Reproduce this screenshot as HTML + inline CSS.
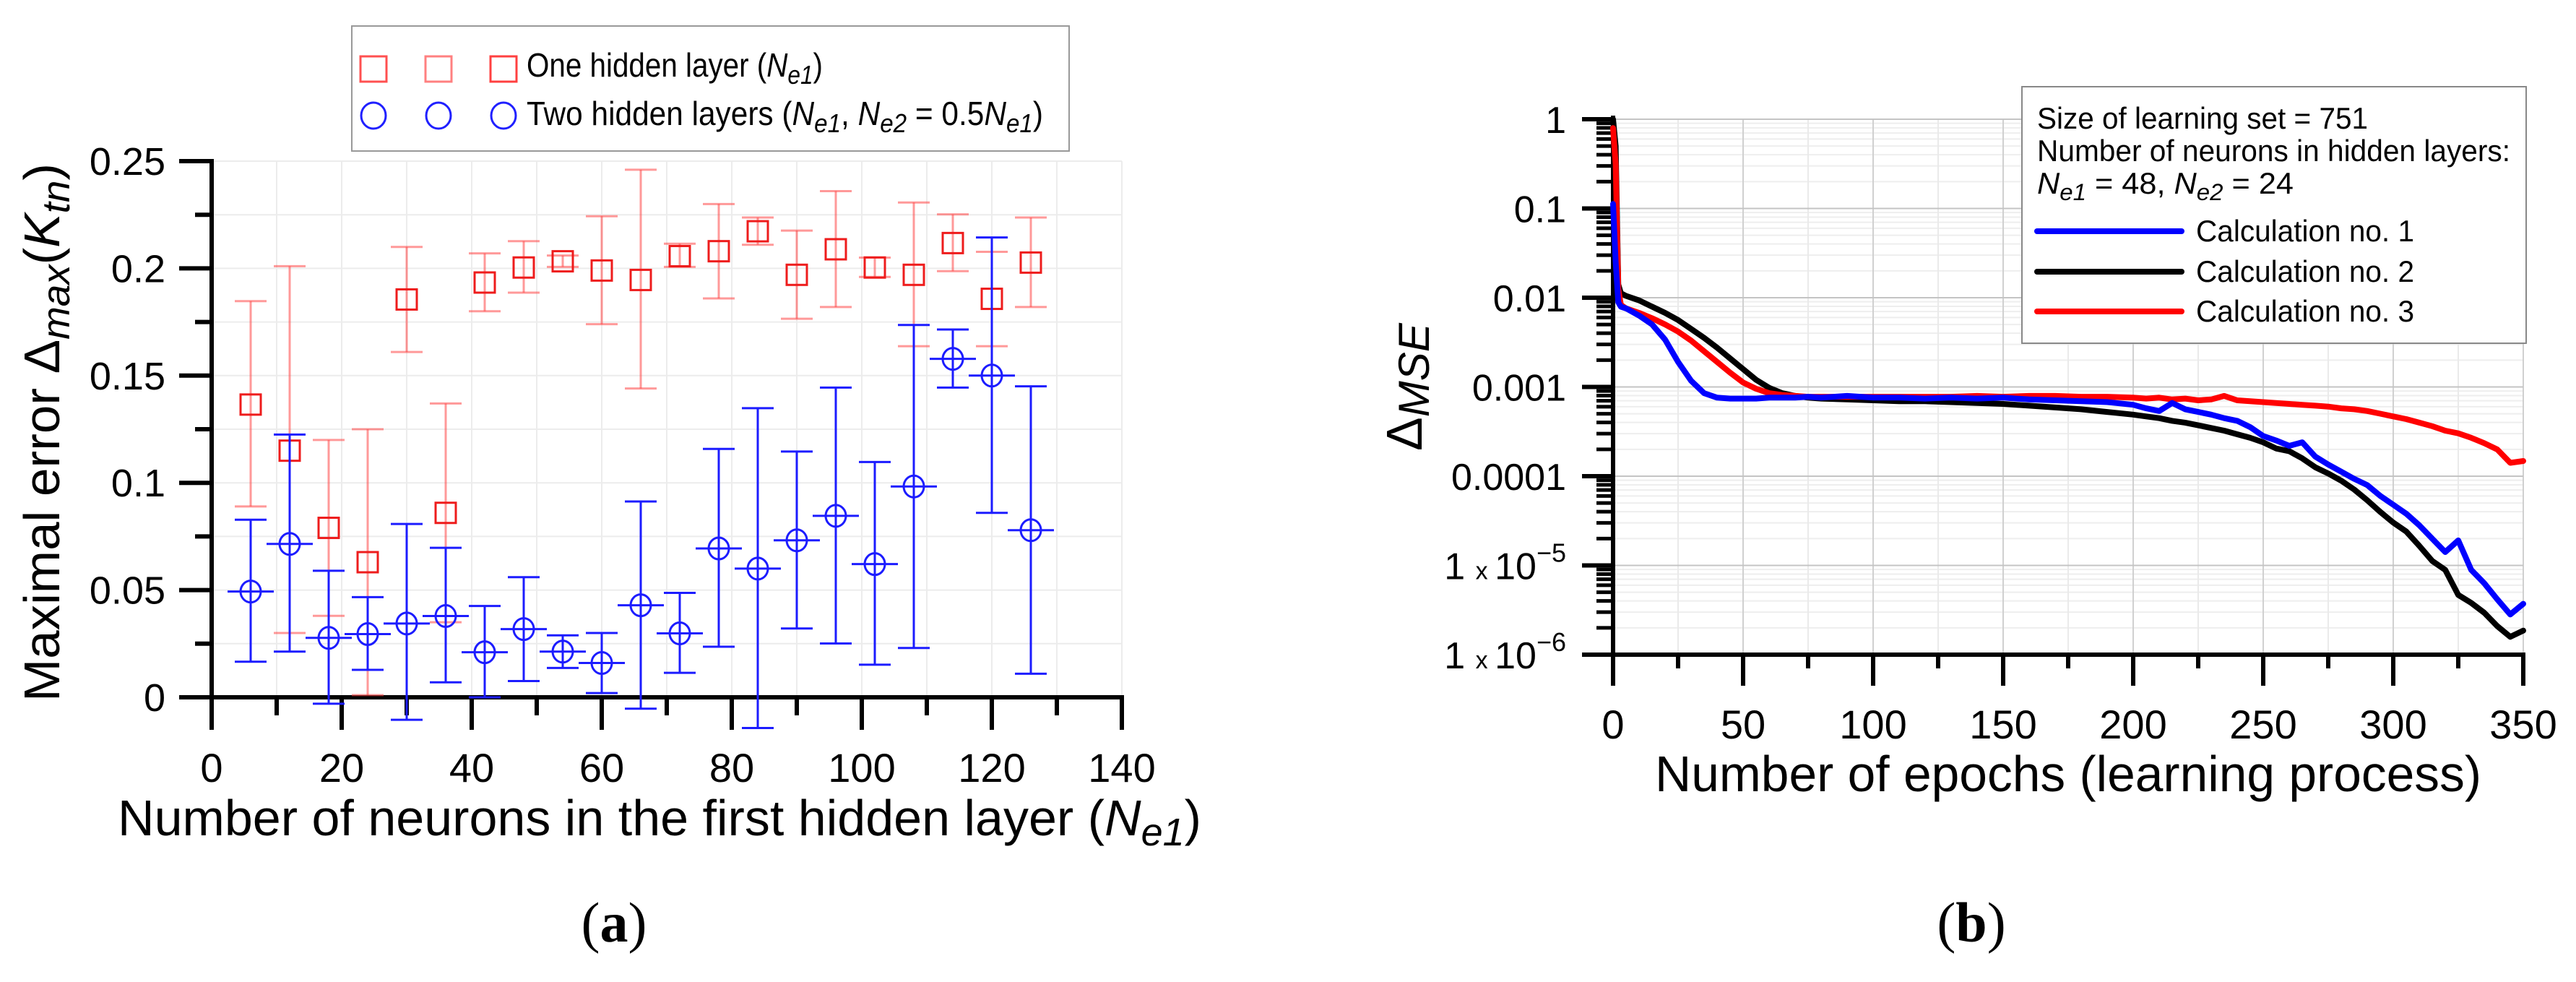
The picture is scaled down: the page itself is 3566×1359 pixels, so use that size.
<!DOCTYPE html>
<html><head><meta charset="utf-8"><style>
html,body{margin:0;padding:0;background:#fff;}
svg{display:block;font-family:"Liberation Sans",Arial,sans-serif;}
</style></head><body>
<svg id="fig" width="3566" height="1359" viewBox="0 0 3566 1359" xmlns="http://www.w3.org/2000/svg">
<rect width="3566" height="1359" fill="#fff"/>
<g id="chartA"></g>
<g id="chartB"></g>

<!-- Left legend -->
<g>
<rect x="487" y="36" width="993" height="173" fill="#fff" stroke="#999" stroke-width="2"/>
<g>
<rect x="499" y="78" width="36" height="35" fill="none" stroke="#ff5050" stroke-width="3"/>
<rect x="589" y="78" width="36" height="35" fill="none" stroke="#ff8080" stroke-width="3"/>
<rect x="679" y="78" width="36" height="35" fill="none" stroke="#ff4040" stroke-width="3"/>
<text x="729" y="106" font-size="46" textLength="410" lengthAdjust="spacingAndGlyphs">One hidden layer (<tspan font-style="italic">N</tspan><tspan font-style="italic" font-size="36" dy="10">e1</tspan><tspan dy="-10">)</tspan></text>
</g>
<g>
<ellipse cx="517" cy="160" rx="17" ry="18" fill="none" stroke="#2020ff" stroke-width="3"/>
<ellipse cx="607" cy="160" rx="17" ry="18" fill="none" stroke="#2020ff" stroke-width="3"/>
<ellipse cx="697" cy="160" rx="17" ry="18" fill="none" stroke="#2020ff" stroke-width="3"/>
<text x="729" y="173" font-size="46" textLength="715" lengthAdjust="spacingAndGlyphs">Two hidden layers (<tspan font-style="italic">N</tspan><tspan font-style="italic" font-size="36" dy="10">e1</tspan><tspan dy="-10">, </tspan><tspan font-style="italic">N</tspan><tspan font-style="italic" font-size="36" dy="10">e2</tspan><tspan dy="-10"> = 0.5</tspan><tspan font-style="italic">N</tspan><tspan font-style="italic" font-size="36" dy="10">e1</tspan><tspan dy="-10">)</tspan></text>
</g>
</g>

<!-- Left titles -->
<text x="163" y="1156" font-size="70" textLength="1500" lengthAdjust="spacingAndGlyphs">Number of neurons in the first hidden layer (<tspan font-style="italic">N</tspan><tspan font-style="italic" font-size="54" dy="14">e1</tspan><tspan dy="-14">)</tspan></text>
<text transform="translate(82,971) rotate(-90)" font-size="70" textLength="745" lengthAdjust="spacingAndGlyphs">Maximal error Δ<tspan font-style="italic" font-size="54" dy="14">max</tspan><tspan dy="-14">(</tspan><tspan font-style="italic">K</tspan><tspan font-style="italic" font-size="54" dy="14">tn</tspan><tspan dy="-14">)</tspan></text>
<text x="850" y="1303" font-size="78" text-anchor="middle" font-family="Liberation Serif, serif">(<tspan font-weight="bold">a</tspan>)</text>

<!-- Right legend -->
<g>
<rect x="2799" y="120" width="698" height="355" fill="#fff" stroke="#888" stroke-width="2"/>
<text x="2820" y="178" font-size="42" textLength="458" lengthAdjust="spacingAndGlyphs">Size of learning set = 751</text>
<text x="2820" y="223" font-size="42" textLength="655" lengthAdjust="spacingAndGlyphs">Number of neurons in hidden layers:</text>
<text x="2820" y="268" font-size="42" textLength="355" lengthAdjust="spacingAndGlyphs"><tspan font-style="italic">N</tspan><tspan font-style="italic" font-size="32" dy="9">e1</tspan><tspan dy="-9"> = 48, </tspan><tspan font-style="italic">N</tspan><tspan font-style="italic" font-size="32" dy="9">e2</tspan><tspan dy="-9"> = 24</tspan></text>
<g><line x1="2820" y1="320" x2="3020" y2="320" stroke="#0000ff" stroke-width="8" stroke-linecap="round"/><text x="3040" y="334" font-size="42" textLength="302" lengthAdjust="spacingAndGlyphs">Calculation no. 1</text></g>
<g><line x1="2820" y1="376" x2="3020" y2="376" stroke="#000" stroke-width="8" stroke-linecap="round"/><text x="3040" y="390" font-size="42" textLength="302" lengthAdjust="spacingAndGlyphs">Calculation no. 2</text></g>
<g><line x1="2820" y1="431" x2="3020" y2="431" stroke="#ff0000" stroke-width="8" stroke-linecap="round"/><text x="3040" y="445" font-size="42" textLength="302" lengthAdjust="spacingAndGlyphs">Calculation no. 3</text></g>
</g>

<text x="2291" y="1095" font-size="70" textLength="1144" lengthAdjust="spacingAndGlyphs">Number of epochs (learning process)</text>
<text transform="translate(1968,624) rotate(-90)" font-size="70">Δ<tspan font-style="italic" font-size="60" dy="10">MSE</tspan></text>
<text x="2729" y="1303" font-size="78" text-anchor="middle" font-family="Liberation Serif, serif">(<tspan font-weight="bold">b</tspan>)</text>
</svg>
<script>
// ---------- Chart A data ----------
const neurons = [6,12,18,24,30,36,42,48,54,60,66,72,78,84,90,96,102,108,114,120,126];
const oneLayerVal = [.1365,.115,.079,.063,.1855,.086,.1934,.2004,.2033,.199,.1946,.2057,.208,.2173,.197,.2089,.2004,.197,.2118,.1858,.2027];
const oneLayerHi = [.1847,.201,.120,.125,.210,.137,.207,.2127,.206,.2243,.246,.2115,.230,.2237,.2176,.236,.205,.2307,.2252,.2077,.2237];
const oneLayerLo = [.089,.030,.038,.001,.161,.035,.180,.1887,.2007,.174,.144,.2007,.186,.211,.1765,.182,.196,.1637,.1987,.1637,.182];
const twoLayerVal = [.0493,.0715,.0277,.0295,.0344,.0379,.021,.0318,.0213,.016,.0429,.0298,.0694,.060,.0732,.0846,.0621,.0983,.1578,.150,.0779];
const twoLayerHi = [.0828,.1225,.059,.0467,.0808,.0697,.0426,.056,.0289,.030,.0913,.0487,.1158,.1348,.1146,.1444,.1097,.1736,.1715,.2144,.145];
const twoLayerLo = [.0166,.0213,-.003,.0128,-.0105,.007,0,.0076,.0137,.002,-.0053,.0114,.0236,-.0143,.0321,.0251,.0152,.023,.1444,.086,.011];
const xTicksA = [0,20,40,60,80,100,120,140];
const yTicksA = [0,0.05,0.1,0.15,0.2,0.25];
const yTickLabelsA = ["0","0.05","0.1","0.15","0.2","0.25"];

// ---------- Chart B data (log10 of ΔMSE) ----------
const epochs = [0,1,2,3,5,10,15,20,25,30,35,40,45,50,55,60,65,70,75,80,90,100,110,120,130,140,150,160,170,180,190,200,205,210,215,220,225,230,235,240,245,250,255,260,265,270,275,280,285,290,295,300,305,310,315,320,325,330,335,340,345,350];
const calc1Log = [-0.95,-1.6,-2.05,-2.1,-2.12,-2.2,-2.3,-2.47,-2.72,-2.93,-3.07,-3.12,-3.13,-3.13,-3.13,-3.12,-3.12,-3.12,-3.11,-3.12,-3.1,-3.12,-3.12,-3.13,-3.12,-3.13,-3.12,-3.14,-3.15,-3.16,-3.17,-3.2,-3.24,-3.27,-3.18,-3.25,-3.28,-3.31,-3.35,-3.38,-3.45,-3.55,-3.6,-3.66,-3.62,-3.78,-3.87,-3.95,-4.03,-4.1,-4.22,-4.32,-4.42,-4.55,-4.7,-4.85,-4.72,-5.05,-5.2,-5.38,-5.55,-5.43];
const calc2Log = [0,-0.3,-1.85,-1.95,-1.98,-2.03,-2.1,-2.17,-2.25,-2.35,-2.45,-2.56,-2.68,-2.8,-2.92,-3.01,-3.07,-3.1,-3.12,-3.13,-3.14,-3.15,-3.16,-3.16,-3.17,-3.18,-3.19,-3.21,-3.23,-3.25,-3.28,-3.31,-3.33,-3.35,-3.38,-3.4,-3.43,-3.46,-3.49,-3.53,-3.57,-3.62,-3.69,-3.72,-3.8,-3.9,-3.97,-4.05,-4.15,-4.27,-4.4,-4.52,-4.62,-4.78,-4.95,-5.05,-5.33,-5.42,-5.53,-5.68,-5.8,-5.73];
const calc3Log = [-0.1,-0.5,-1.9,-2.08,-2.12,-2.17,-2.23,-2.3,-2.38,-2.48,-2.6,-2.72,-2.84,-2.95,-3.02,-3.07,-3.09,-3.1,-3.11,-3.11,-3.11,-3.11,-3.11,-3.11,-3.11,-3.1,-3.11,-3.1,-3.1,-3.11,-3.11,-3.12,-3.13,-3.12,-3.14,-3.13,-3.15,-3.14,-3.1,-3.15,-3.16,-3.17,-3.18,-3.19,-3.2,-3.21,-3.22,-3.24,-3.25,-3.27,-3.3,-3.33,-3.36,-3.4,-3.44,-3.49,-3.52,-3.57,-3.63,-3.7,-3.85,-3.83];
const xTicksB = [0,50,100,150,200,250,300,350];
const yDecadesB = [0,-1,-2,-3,-4,-5,-6];
const yTickLabelsB = ["1","0.1","0.01","0.001","0.0001","1 x 10^-5","1 x 10^-6"];

const NS = "http://www.w3.org/2000/svg";
function mk(parent, tag, attrs){ const e=document.createElementNS(NS,tag); for(const k in attrs) e.setAttribute(k,attrs[k]); parent.appendChild(e); return e; }

// ---------- Chart A ----------
(function(){
  const g = document.getElementById('chartA');
  const X = v => 293 + v*9;
  const Y = v => 965 - v*2968;
  // grid
  for(let v=0; v<=140; v+=10){ const l=mk(g,'line',{x1:X(v),y1:Y(0.25),x2:X(v),y2:Y(0),stroke:'#ececec','stroke-width':2});   }
  for(let i=0;i<=10;i++){ const v=i*0.025; const l=mk(g,'line',{x1:X(0),y1:Y(v),x2:X(140),y2:Y(v),stroke:'#ececec','stroke-width':2});   }
  // axes
  const ax=mk(g,'line',{x1:248,y1:Y(0),x2:X(140)+3,y2:Y(0),stroke:'#000','stroke-width':6});
   
  const ay=mk(g,'line',{x1:X(0),y1:Y(0.25)-3,x2:X(0),y2:1010,stroke:'#000','stroke-width':6});
   
  for(let i=0;i<=10;i++){ const v=i*0.025; const major=i%2===0;
    const t=mk(g,'line',{x1:major?248:270,y1:Y(v),x2:X(0),y2:Y(v),stroke:'#000','stroke-width':6});
      }
  for(let v=0; v<=140; v+=10){ const major=v%20===0;
    const t=mk(g,'line',{x1:X(v),y1:Y(0),x2:X(v),y2:major?1010:990,stroke:'#000','stroke-width':6});
      }
  xTicksA.forEach(v=>{ const t=mk(g,'text',{x:X(v),y:1082,'font-size':56,'text-anchor':'middle'}); t.textContent=String(v);
      });
  yTicksA.forEach((v,i)=>{ const t=mk(g,'text',{x:229,y:Y(v)+19,'font-size':54,'text-anchor':'end'}); t.textContent=yTickLabelsA[i];
      });
  // red series
  neurons.forEach((n,i)=>{
    const s=mk(g,'g',{});  
    const c='rgba(255,70,70,0.55)';
    mk(s,'line',{x1:X(n),y1:Y(oneLayerHi[i]),x2:X(n),y2:Y(oneLayerLo[i]),stroke:c,'stroke-width':3});
    mk(s,'line',{x1:X(n)-22,y1:Y(oneLayerHi[i]),x2:X(n)+22,y2:Y(oneLayerHi[i]),stroke:c,'stroke-width':3});
    mk(s,'line',{x1:X(n)-22,y1:Y(oneLayerLo[i]),x2:X(n)+22,y2:Y(oneLayerLo[i]),stroke:c,'stroke-width':3});
    mk(s,'rect',{x:X(n)-14,y:Y(oneLayerVal[i])-14,width:28,height:28,fill:'none',stroke:'#ee1c1c','stroke-width':3});
  });
  // blue series
  neurons.forEach((n,i)=>{
    const s=mk(g,'g',{});  
    const c='#1c1cff';
    mk(s,'line',{x1:X(n),y1:Y(twoLayerHi[i]),x2:X(n),y2:Y(twoLayerLo[i]),stroke:c,'stroke-width':3});
    mk(s,'line',{x1:X(n)-22,y1:Y(twoLayerHi[i]),x2:X(n)+22,y2:Y(twoLayerHi[i]),stroke:c,'stroke-width':3});
    mk(s,'line',{x1:X(n)-22,y1:Y(twoLayerLo[i]),x2:X(n)+22,y2:Y(twoLayerLo[i]),stroke:c,'stroke-width':3});
    mk(s,'line',{x1:X(n)-32,y1:Y(twoLayerVal[i]),x2:X(n)+32,y2:Y(twoLayerVal[i]),stroke:c,'stroke-width':3});
    mk(s,'ellipse',{cx:X(n),cy:Y(twoLayerVal[i]),rx:14,ry:15,fill:'none',stroke:c,'stroke-width':3});
  });
})();

// ---------- Chart B ----------
(function(){
  const g = document.getElementById('chartB');
  const X = v => 2233 + v*3.6;
  const Y = lg => 165 - lg*123.5;
  // minor grid
  for(let d=0; d>-6; d--){ for(let m=2;m<=9;m++){ const lg=d-1+Math.log10(m);
    const l=mk(g,'line',{x1:X(0),y1:Y(lg),x2:X(350),y2:Y(lg),stroke:'#eeeeee','stroke-width':2});
     
    const t=mk(g,'line',{x1:2210,y1:Y(lg),x2:X(0),y2:Y(lg),stroke:'#000','stroke-width':5});
      } }
  for(let v=25; v<=350; v+=25){ const major=v%50===0;
    const l=mk(g,'line',{x1:X(v),y1:Y(0),x2:X(v),y2:Y(-6),stroke:major?'#d0d0d0':'#eaeaea','stroke-width':2});
      }
  yDecadesB.forEach(lg=>{ const l=mk(g,'line',{x1:X(0),y1:Y(lg),x2:X(350),y2:Y(lg),stroke:'#c4c4c4','stroke-width':2});
     
    const t=mk(g,'line',{x1:2190,y1:Y(lg),x2:X(0),y2:Y(lg),stroke:'#000','stroke-width':6});
      });
  const ax=mk(g,'line',{x1:2190,y1:Y(-6),x2:X(350)+3,y2:Y(-6),stroke:'#000','stroke-width':6});
   
  const ay=mk(g,'line',{x1:X(0),y1:Y(0)-5,x2:X(0),y2:949,stroke:'#000','stroke-width':6});
   
  for(let v=0; v<=350; v+=25){ const major=v%50===0;
    const t=mk(g,'line',{x1:X(v),y1:Y(-6),x2:X(v),y2:major?949:925,stroke:'#000','stroke-width':6});
      }
  xTicksB.forEach(v=>{ const t=mk(g,'text',{x:X(v),y:1022,'font-size':56,'text-anchor':'middle'}); t.textContent=String(v);
      });
  yDecadesB.forEach((lg,i)=>{ const lab=yTickLabelsB[i];
    const t=mk(g,'text',{x:2168,y:Y(lg)+19,'font-size':52,'text-anchor':'end'});
     
    if(lab.indexOf('^')<0){ t.textContent=lab; }
    else { const exp=lab.split('^')[1];
      const a=mk(t,'tspan',{}); a.textContent='1 ';
      const b=mk(t,'tspan',{'font-size':34}); b.textContent='x ';
      const c=mk(t,'tspan',{}); c.textContent='10';
      const d=mk(t,'tspan',{'font-size':36,dy:-24}); d.textContent=exp.replace('-','\u2212'); }
  });
  function series(vals,color,name){
    const pts=epochs.map((e,i)=>X(e).toFixed(1)+','+Y(vals[i]).toFixed(1)).join(' ');
    const p=mk(g,'polyline',{points:pts,fill:'none',stroke:color,'stroke-width':8,'stroke-linejoin':'round','stroke-linecap':'round'});
     
  }
  series(calc2Log,'#000000','line-calc-2');
  series(calc3Log,'#ff0000','line-calc-3');
  series(calc1Log,'#0000ff','line-calc-1');
})();
</script>
</body></html>
